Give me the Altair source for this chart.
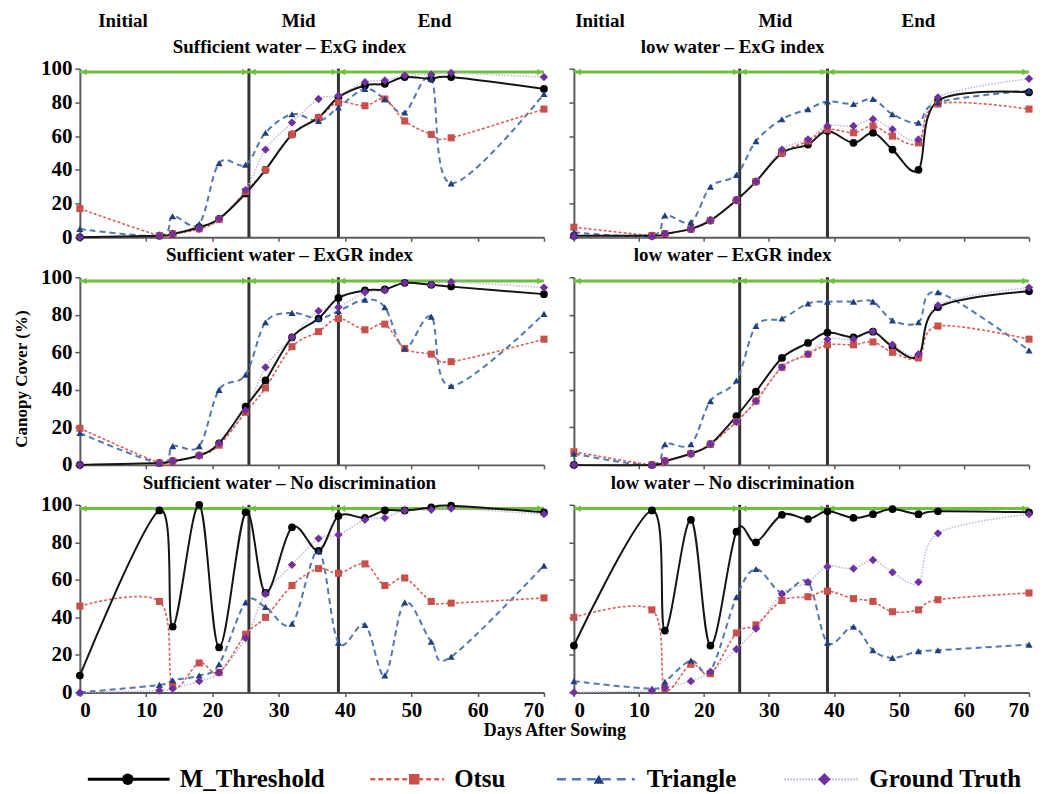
import altair as alt
import pandas as pd

# ---------------- data ----------------
days = [0, 12, 14, 18, 21, 25, 28, 32, 36, 39, 43, 46, 49, 53, 56, 70]
series_names = ["M_Threshold", "Otsu", "Triangle", "Ground Truth"]
panel_titles = [
    "Sufficient water – ExG index", "low water – ExG index",
    "Sufficient water – ExGR index", "low water – ExGR index",
    "Sufficient water – No discrimination", "low water – No discrimination",
]
stage_names = ["Initial", "Mid", "End"]
stage_edges = [0, 25.5, 39, 70]
arrow_level = 98
stage_label_days_left = [6.5, 33, 53.5]
stage_label_days_right = [4, 31, 53]
x_ticks = [0, 10, 20, 30, 40, 50, 60, 70]
y_ticks = [0, 20, 40, 60, 80, 100]

# Sufficient water - ExG
p1_m = [0, 1, 2, 6, 11, 26, 40, 61, 71, 83, 90, 91, 95, 94, 95, 88]
p1_o = [17, 1, 2, 5, 10.5, 27, 40, 61, 71, 80, 78, 82, 69, 61, 59, 76]
p1_t = [5, 1, 12.5, 8, 44, 43, 62, 73, 69, 77, 88, 82, 74, 94, 32, 85]
p1_g = [0, 1, 2, 5, 11, 28, 52, 68, 82, 84, 92, 93, 96, 96.5, 97.5, 95]
# low water - ExG
p2_m = [1, 1, 2, 5, 10, 22, 33, 50, 55, 63, 56, 62, 52, 40, 81, 86]
p2_o = [6, 1, 2, 5, 10, 22, 33, 50, 57, 64, 62, 66, 60, 56, 79, 76]
p2_t = [3, 1, 13, 9, 30, 37, 57, 70, 76, 80.5, 79, 82, 73, 68, 80, 87]
p2_g = [0.5, 0.5, 2, 5, 10, 22, 33, 52, 58, 66, 66, 70, 64, 58, 83, 94]
# Sufficient water - ExGR
p3_m = [0, 1, 2, 5, 11.5, 31, 45, 68, 78, 89, 93, 93.5, 97, 96, 95, 91]
p3_o = [19.5, 1, 2, 5, 10.5, 28, 41, 63, 71, 78, 72, 75, 62, 59, 55, 67]
p3_t = [17, 1, 10, 10, 40, 48, 76, 81, 78, 82, 88, 84, 62, 79, 42, 80.5]
p3_g = [0, 1, 2, 5, 11.5, 29, 52, 68, 82, 84, 92, 93, 97, 96, 97.5, 94.5]
# low water - ExGR
p4_m = [0, 0, 2, 6, 11, 26, 39, 57, 65, 70.5, 68, 71, 63, 58, 84, 92.5]
p4_o = [7, 0, 2, 6, 11, 23, 34, 52, 59, 64, 64, 65.5, 60, 57, 74, 67]
p4_t = [6, 0, 11, 11, 34, 45, 74, 78, 86, 87, 87, 87, 77, 76, 92, 61]
p4_g = [0, 0, 2, 6, 11, 23, 34, 52, 59, 67, 67, 71, 64, 59, 85, 94.5]
# Sufficient water - No discrimination
p5_m = [9, 97, 35, 100, 24, 96, 53, 88, 75.5, 94, 93, 97, 97, 98.6, 99.5, 96]
p5_o = [46, 48.5, 3.5, 15.7, 10.6, 31, 40, 57, 66, 63.5, 68.5, 57, 61, 48.5, 47.6, 50.4]
p5_t = [0, 4, 6.5, 9, 15, 48, 45.5, 36.6, 75.5, 26.5, 36, 9, 48, 27, 19, 67.6]
p5_g = [0, 1, 2, 6, 10.6, 29, 52.6, 68, 82, 84, 92, 93, 97, 97.3, 98, 95]
# low water - No discrimination
p6_m = [25, 97, 33, 92, 25, 85.7, 80, 94.7, 92.4, 96.5, 93, 95, 97.7, 95, 96.5, 96]
p6_o = [40, 44, 2, 15, 10, 31.7, 36, 49, 51, 54, 50, 48.5, 43, 44, 49.4, 53]
p6_t = [6, 2, 5.7, 17, 11.5, 50.8, 65.8, 53, 58.8, 26.5, 35, 22.5, 18.4, 22, 22.5, 25.5]
p6_g = [0, 1, 2.5, 6, 11, 23, 34, 52.6, 58.8, 67, 66, 70.6, 64, 58.8, 84.8, 95]

panel_values = [
    [p1_m, p1_o, p1_t, p1_g], [p2_m, p2_o, p2_t, p2_g],
    [p3_m, p3_o, p3_t, p3_g], [p4_m, p4_o, p4_t, p4_g],
    [p5_m, p5_o, p5_t, p5_g], [p6_m, p6_o, p6_t, p6_g],
]

# ---------------- styles ----------------
FONT = "Liberation Serif"
GREEN = "#6fbf3f"
styles = {
    "M_Threshold": dict(line="#151515", dash=None, lw=2, shape="circle", mc="#000000", ms=60),
    "Otsu": dict(line="#d8605b", dash=[3, 2], lw=1.6, shape="square", mc="#c94f4b", ms=50),
    "Triangle": dict(line="#5378ad", dash=[6, 4], lw=2, shape="triangle-up", mc="#1f3f7f", ms=50),
    "Ground Truth": dict(line="#c6b6e0", dash=[1.5, 1.5], lw=1.6, shape="diamond", mc="#7030a0", ms=70),
}
line_order = ["Ground Truth", "Triangle", "Otsu", "M_Threshold"]
point_order = ["M_Threshold", "Otsu", "Triangle", "Ground Truth"]

LEFT_W, RIGHT_W = 465, 456
HEIGHTS = [169, 188, 188]


def txt(text, x, y, size, align="center", angle=0):
    return alt.Chart(pd.DataFrame({"t": [text]})).mark_text(
        font=FONT, fontWeight="bold", fontSize=size, color="#000000",
        align=align, baseline="middle", angle=angle,
    ).encode(x=alt.value(x), y=alt.value(y), text="t:N")


def panel(idx, col, row):
    w = LEFT_W if col == 0 else RIGHT_W
    h = HEIGHTS[row]
    vals = panel_values[idx]
    recs = []
    for s, arr in zip(series_names, vals):
        for d, v in zip(days, arr):
            recs.append({"day": d, "value": v, "series": s})
    df = pd.DataFrame(recs)

    xs = alt.Scale(domain=[0, 70], nice=False, zero=False)
    ys = alt.Scale(domain=[0, 100], nice=False)
    xaxis = alt.Axis(values=x_ticks, labels=(row == 2), title=None, format="d",
                     tickSize=4, labelPadding=3, labelFontSize=21, labelOverlap=False)
    yaxis = alt.Axis(values=y_ticks, labels=(col == 0), title=None, format="d",
                     tickSize=5, labelPadding=3, labelFontSize=21, labelOverlap=False)

    def X(f):
        return alt.X(f, scale=xs, axis=xaxis)

    def Y(f):
        return alt.Y(f, scale=ys, axis=yaxis)

    def YD(v):
        return alt.YDatum(v, scale=ys, axis=yaxis)

    layers = []
    vdf = pd.DataFrame({"x": stage_edges[1:3]})
    layers.append(alt.Chart(vdf).mark_rule(color="#333333", strokeWidth=3).encode(
        x=X("x:Q"), y=YD(0), y2=alt.Y2Datum(100)))
    adf = pd.DataFrame({"x0": stage_edges[:-1], "x1": stage_edges[1:]})
    layers.append(alt.Chart(adf).mark_rule(color=GREEN, strokeWidth=3).encode(
        x=X("x0:Q"), x2="x1:Q", y=YD(arrow_level)))
    layers.append(alt.Chart(adf).mark_point(shape="triangle-left", filled=True, size=45,
                                            color=GREEN, opacity=1, xOffset=4).encode(
        x=X("x0:Q"), y=YD(arrow_level)))
    layers.append(alt.Chart(adf).mark_point(shape="triangle-right", filled=True, size=45,
                                            color=GREEN, opacity=1, xOffset=-4).encode(
        x=X("x1:Q"), y=YD(arrow_level)))
    for s in line_order:
        st = styles[s]
        kw = dict(color=st["line"], strokeWidth=st["lw"], interpolate="cardinal")
        if st["dash"]:
            kw["strokeDash"] = st["dash"]
        layers.append(alt.Chart(df[df.series == s]).mark_line(**kw).encode(
            x=X("day:Q"), y=Y("value:Q")))
    for s in point_order:
        st = styles[s]
        layers.append(alt.Chart(df[df.series == s]).mark_point(
            shape=st["shape"], filled=True, size=st["ms"], color=st["mc"], opacity=1).encode(
            x=X("day:Q"), y=Y("value:Q")))
    tx = 210 if col == 0 else 159
    layers.append(txt(panel_titles[idx], tx, -22, 19))
    if row == 0:
        sd = stage_label_days_left if col == 0 else stage_label_days_right
        sdf = pd.DataFrame({"day": sd, "name": stage_names})
        layers.append(alt.Chart(sdf).mark_text(
            font=FONT, fontWeight="bold", fontSize=19, baseline="middle").encode(
            x=X("day:Q"), y=alt.value(-48), text="name:N"))
    if row == 1 and col == 0:
        layers.append(txt("Canopy Cover (%)", -58, 102, 17, angle=270))
    if row == 2 and col == 0:
        layers.append(txt("Days After Sowing", 476, 227, 18))
        leg = [("M_Threshold", 8, 90, 48, 100), ("Otsu", 291, 365, 335, 375),
               ("Triangle", 478, 556, 520, 568), ("Ground Truth", 706, 780, 746, 791)]
        ly = 275
        for s, x0, x1, xm, xt in leg:
            st = styles[s]
            one = pd.DataFrame({"series": [s]})
            kw = dict(color=st["line"] if s != "M_Threshold" else "#000000",
                      strokeWidth=3 if s == "M_Threshold" else 2.5)
            if st["dash"]:
                if s == "Triangle":
                    kw["strokeDash"] = [9, 6]
                elif s == "Otsu":
                    kw["strokeDash"] = [5, 3]
                else:
                    kw["strokeDash"] = st["dash"]
            layers.append(alt.Chart(one).mark_rule(**kw).encode(
                x=alt.value(x0), x2=alt.value(x1), y=alt.value(ly)))
            layers.append(alt.Chart(one).mark_point(
                shape=st["shape"], filled=True, size=st["ms"] * 2.2, color=st["mc"], opacity=1).encode(
                x=alt.value(xm), y=alt.value(ly)))
            layers.append(alt.Chart(one).mark_text(
                font=FONT, fontWeight="bold", fontSize=25, align="left", baseline="middle",
                color="#000000").encode(x=alt.value(xt), y=alt.value(ly), text="series:N"))

    return alt.layer(*layers).properties(width=w, height=h)


panels = []
for r in range(3):
    panels.append(panel(2 * r, 0, r))
    panels.append(panel(2 * r + 1, 1, r))

chart = alt.concat(*panels, columns=2, spacing=alt.RowColnumber(row=40, column=30),
                   bounds="flush").properties(
    padding={"left": 5, "top": 3, "right": 0, "bottom": 0}
).configure_view(stroke=None).configure_axis(
    grid=False, domainColor="#5a5a5a", domainWidth=2, tickColor="#5a5a5a",
    tickWidth=1.5, labelFont=FONT, labelFontWeight="bold", labelColor="#000000",
)

chart.save("out.html", embed_options={"renderer": "svg", "actions": False})
